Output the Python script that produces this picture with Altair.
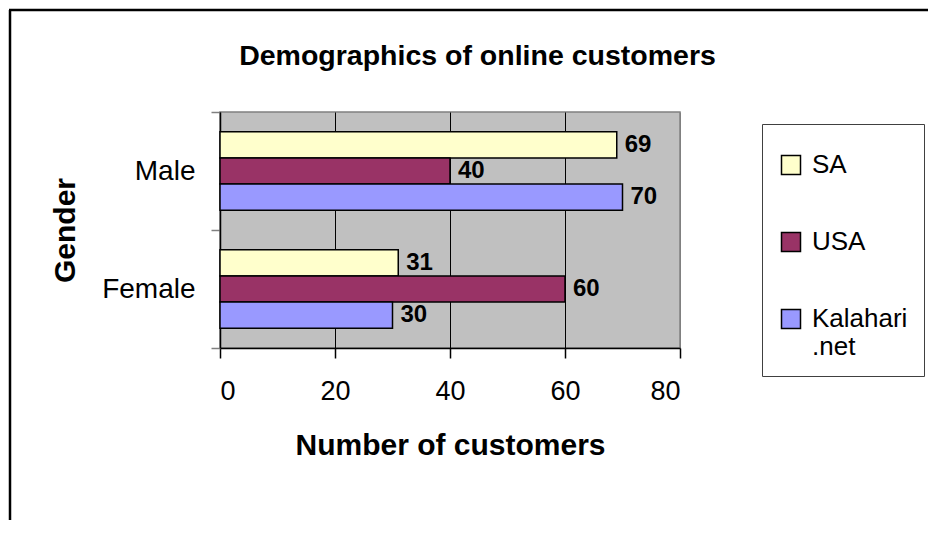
import altair as alt
import pandas as pd

# ---- data ----
genders = ["Male", "Female"]
series = ["SA", "USA", "Kalahari.net"]
sa_values = [69, 31]
usa_values = [40, 60]
kalahari_values = [70, 30]
colors = ["#FFFFCC", "#993366", "#9999FF"]
x_ticks = [0, 20, 40, 60, 80]
chart_title = "Demographics of online customers"

rows = []
for i, g in enumerate(genders):
    for s, vals in zip(series, [sa_values, usa_values, kalahari_values]):
        rows.append({"Gender": g, "Series": s, "Value": vals[i]})
df = pd.DataFrame(rows)

FONT = "Liberation Sans"

y_enc = alt.Y(
    "Gender:N",
    sort=genders,
    scale=alt.Scale(paddingInner=0, paddingOuter=0),
    axis=alt.Axis(
        title="Gender",
        tickBand="extent",
        tickSize=9,
        tickColor="#808080",
        tickWidth=1.5,
        domainColor="#000000",
        domainWidth=1.5,
        labelFont=FONT,
        labelFontSize=28,
        labelColor="#000000",
        labelPadding=16,
        titleFont=FONT,
        titleFontSize=30,
        titleFontWeight="bold",
        titleColor="#000000",
        titlePadding=21,
        grid=False,
    ),
)
y_off = alt.YOffset(
    "Series:N", sort=series, scale=alt.Scale(paddingInner=0, paddingOuter=0.75)
)
x_enc = alt.X(
    "Value:Q",
    scale=alt.Scale(domain=[0, 80], nice=False),
    axis=alt.Axis(
        values=x_ticks,
        title="Number of customers",
        grid=True,
        gridColor={
            "condition": {"test": "datum.value === 80", "value": "#808080"},
            "value": "#000000",
        },
        gridWidth=1,
        tickSize=10,
        tickColor="#000000",
        tickWidth=1.5,
        domainColor="#000000",
        domainWidth=1.5,
        labelFont=FONT,
        labelFontSize=27,
        labelColor="#000000",
        labelPadding=20,
        titleFont=FONT,
        titleFontSize=30,
        titleFontWeight="bold",
        titleColor="#000000",
        titlePadding=26,
    ),
)

color_enc = alt.Color(
    "Series:N",
    sort=series,
    scale=alt.Scale(domain=series, range=colors),
    legend=alt.Legend(
        title=" ",
        titleFontSize=6,
        titlePadding=6,
        orient="none",
        legendX=542,
        legendY=12,
        direction="vertical",
        padding=16,
        strokeColor="#404040",
        fillColor="#FFFFFF",
        symbolType="square",
        symbolSize=361,
        symbolStrokeColor="#000000",
        symbolStrokeWidth=1.5,
        symbolOpacity=1,
        labelFont=FONT,
        labelFontSize=26,
        labelColor="#000000",
        labelOffset=8,
        labelLimit=220,
        rowPadding=51,
        labelExpr="datum.label == 'Kalahari.net' ? ['Kalahari', '\u2007.net'] : datum.label",
    ),
)

bars = alt.Chart(df).mark_bar(stroke="#000000", strokeWidth=1.5, opacity=1).encode(
    x=x_enc, y=y_enc, yOffset=y_off, color=color_enc
)

labels = alt.Chart(df).mark_text(
    align="left",
    baseline="middle",
    dx=8,
    font=FONT,
    fontSize=24,
    fontWeight="bold",
    color="#000000",
).encode(
    x=alt.X("Value:Q"),
    y=alt.Y("Gender:N", sort=genders),
    yOffset=alt.YOffset("Series:N", sort=series),
    text="Value:Q",
)

title_df = pd.DataFrame({"title": [chart_title]})
title_mark = alt.Chart(title_df).mark_text(
    align="center",
    baseline="alphabetic",
    font=FONT,
    fontSize=28.5,
    fontWeight="bold",
    color="#000000",
).encode(x=alt.value(257.5), y=alt.value(-47), text="title:N")

frame_df = pd.DataFrame({"k": [0]})
left_line = alt.Chart(frame_df).mark_rule(color="#000000", strokeWidth=2.5).encode(
    x=alt.value(-210), y=alt.value(-102), y2=alt.value(408)
)
top_line = alt.Chart(frame_df).mark_rule(color="#000000", strokeWidth=2.5).encode(
    x=alt.value(-211), x2=alt.value(708), y=alt.value(-102)
)

chart = (
    alt.layer(bars, labels, title_mark, left_line, top_line)
    .properties(
        width=460,
        height=236,
        padding={"left": 212, "top": 104, "right": 248, "bottom": 172},
        autosize=alt.AutoSizeParams(type="none"),
        background="#FFFFFF",
    )
    .configure_view(fill="#C0C0C0", stroke="#808080", strokeWidth=1.5)
)

chart.save("out.html", embed_options={"renderer": "svg", "actions": False})
